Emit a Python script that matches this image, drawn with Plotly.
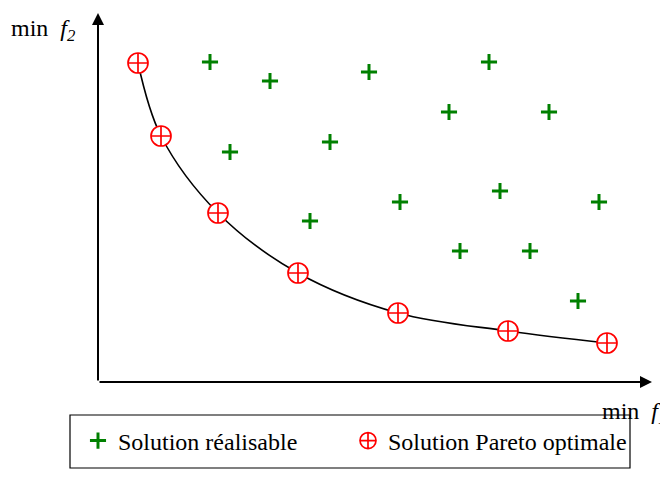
import plotly.graph_objects as go

# Feasible solutions (f1, f2)
feasible_f1 = [112, 172, 271, 391, 351, 451, 132, 232, 302, 402, 501, 212, 362, 432, 480]
feasible_f2 = [320, 301, 310, 320, 270, 270, 230, 240, 180, 191, 180, 161, 131, 131, 81]

# Pareto optimal solutions (f1, f2)
pareto_f1 = [40, 63, 120, 200, 300, 410, 509]
pareto_f2 = [319, 246, 169, 109, 69, 51, 39]

FONT = "Liberation Serif"
W, H = 660, 489   # page body has an 8px margin
OFF = 8

def px(x):
    return (x - OFF) / W

def py(y):
    return 1 - (y - OFF) / H

fig = go.Figure()

fig.add_trace(go.Scatter(
    x=pareto_f1, y=pareto_f2, mode="lines",
    line=dict(color="black", width=1.6, shape="spline", smoothing=1.0),
    showlegend=False, hoverinfo="skip"))

fig.add_trace(go.Scatter(
    x=feasible_f1, y=feasible_f2, mode="markers", name="Solution réalisable",
    legend="legend",
    marker=dict(symbol="cross-thin", size=11.5, color="#008000",
                line=dict(color="#008000", width=3))))

fig.add_trace(go.Scatter(
    x=pareto_f1, y=pareto_f2, mode="markers", name="Solution Pareto optimale",
    legend="legend2",
    marker=dict(symbol="circle-cross", size=20, color="white",
                line=dict(color="red", width=1.7))))

# axes with arrows
fig.add_annotation(x=554, y=0, ax=0, ay=0, xref="x", yref="y", axref="x", ayref="y",
                   showarrow=True, arrowhead=2, arrowsize=1.2, arrowwidth=2, arrowcolor="black", text="")
fig.add_annotation(x=0, y=369, ax=0, ay=0, xref="x", yref="y", axref="x", ayref="y",
                   showarrow=True, arrowhead=2, arrowsize=1.2, arrowwidth=2, arrowcolor="black", text="")

fig.add_annotation(x=-89, y=352, xref="x", yref="y", xanchor="left", yanchor="middle",
                   text="min  <i>f<sub>2</sub></i>", showarrow=False,
                   font=dict(family=FONT, size=24, color="black"))
fig.add_annotation(x=502, y=-31, xref="x", yref="y", xanchor="left", yanchor="middle",
                   text="min  <i>f<sub>1</sub></i>", showarrow=False,
                   font=dict(family=FONT, size=24, color="black"))

# legend frame
fig.add_shape(type="rect", x0=-28, x1=532, y0=-33, y1=-86, xref="x", yref="y",
              line=dict(color="black", width=1.2), fillcolor="rgba(0,0,0,0)")

leg_common = dict(orientation="h", xanchor="left", yanchor="middle",
                  font=dict(family=FONT, size=24, color="black"),
                  bgcolor="rgba(0,0,0,0)", borderwidth=0, itemsizing="trace")

fig.update_layout(
    width=W, height=H,
    margin=dict(l=0, r=0, t=0, b=0, autoexpand=False),
    paper_bgcolor="white", plot_bgcolor="white",
    xaxis=dict(range=[-98 + OFF, 570], visible=False, fixedrange=True),
    yaxis=dict(range=[-115, 382 - OFF], visible=False, fixedrange=True),
    showlegend=True,
    legend=dict(x=px(78), y=py(441), **leg_common),
    legend2=dict(x=px(348), y=py(441), **leg_common),
    font=dict(family=FONT),
)

fig.write_html("out.html")
